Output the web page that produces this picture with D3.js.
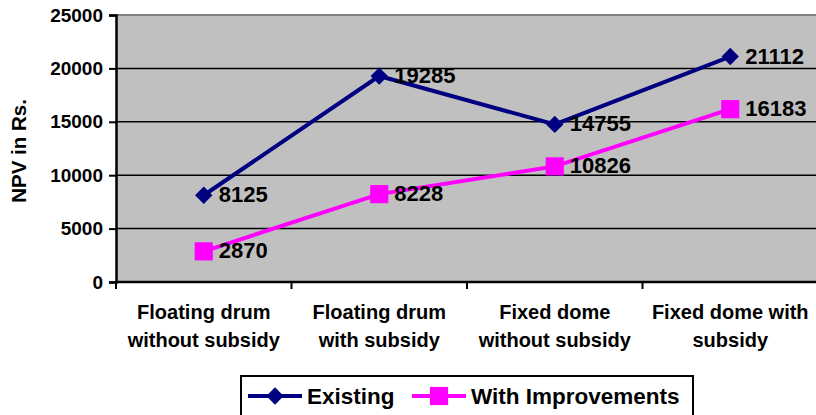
<!DOCTYPE html>
<html>
<head>
<meta charset="utf-8">
<script src="https://cdn.jsdelivr.net/npm/d3@7"></script>
<style>
  body { margin: 0; background: #fff; }
  text { font-family: "Liberation Sans", Arial, sans-serif; font-weight: bold; }
</style>
</head>
<body>
<svg id="drawing_region"></svg>
<script>
// chart data
const categories = [
    ["Floating drum", "without subsidy"],
    ["Floating drum", "with subsidy"],
    ["Fixed dome", "without subsidy"],
    ["Fixed dome with", "subsidy"]
];
const existing = [8125, 19285, 14755, 21112];
const improved = [2870, 8228, 10826, 16183];
const yTicks = [0, 5000, 10000, 15000, 20000, 25000];
const seriesNames = ["Existing", "With Improvements"];

const width = 816, height = 415;
const margin = {top: 15, right: 0, bottom: 133, left: 116};
const inner_width = 702;
const inner_height = height - margin.top - margin.bottom;

const svg = d3.select('#drawing_region')
    .attr('width', width)
    .attr('height', height);

const chart = svg.append('g')
    .attr('transform', `translate(${margin.left}, ${margin.top})`);

const xscale = d3.scaleBand()
    .domain(d3.range(categories.length))
    .range([0, inner_width]);

const yscale = d3.scaleLinear()
    .domain([0, 25000])
    .range([inner_height, 0]);

// plot background
chart.append('rect')
    .attr('width', inner_width)
    .attr('height', inner_height)
    .attr('fill', '#c0c0c0');

chart.append('line')
    .attr('x1', 0).attr('x2', inner_width)
    .attr('y1', 0).attr('y2', 0)
    .attr('stroke', '#808080').attr('stroke-width', 2);

// gridlines
chart.selectAll('.grid')
    .data(yTicks.filter(d => d > 0 && d < 25000))
    .enter()
    .append('line')
    .attr('x1', 0).attr('x2', inner_width)
    .attr('y1', d => yscale(d)).attr('y2', d => yscale(d))
    .attr('stroke', '#000').attr('stroke-width', 1.5);

// y axis
const yaxis = d3.axisLeft(yscale)
    .tickValues(yTicks)
    .tickFormat(d3.format('d'))
    .tickSize(7)
    .tickPadding(4);

const yaxis_group = chart.append('g').call(yaxis);
yaxis_group.select('.domain').attr('stroke-width', 2.5);
yaxis_group.selectAll('.tick line').attr('stroke-width', 2);
yaxis_group.selectAll('.tick text')
    .attr('font-size', 19)
    .attr('font-weight', 'bold')
    .attr('font-family', '"Liberation Sans", Arial, sans-serif')
    .attr('dx', -2);

// x axis
const xaxis_group = chart.append('g')
    .attr('transform', `translate(0, ${inner_height})`);
xaxis_group.append('line')
    .attr('x1', 0).attr('x2', inner_width)
    .attr('stroke', '#000').attr('stroke-width', 2.5);
xaxis_group.selectAll('.xtick')
    .data(d3.range(categories.length + 1))
    .enter()
    .append('line')
    .attr('x1', d => d * xscale.bandwidth())
    .attr('x2', d => d * xscale.bandwidth())
    .attr('y1', 0).attr('y2', 7)
    .attr('stroke', '#000').attr('stroke-width', 2);

const xlabels = xaxis_group.selectAll('.xlabel')
    .data(categories)
    .enter()
    .append('text')
    .attr('text-anchor', 'middle')
    .attr('font-size', 20)
    .attr('transform', (d, i) => `translate(${xscale(i) + xscale.bandwidth() / 2}, 0)`);
xlabels.selectAll('tspan')
    .data(d => d)
    .enter()
    .append('tspan')
    .attr('x', 0)
    .attr('y', (d, i) => 37 + i * 28)
    .text(d => d);

// axis title
svg.append('text')
    .attr('transform', `translate(26, 151) rotate(-90)`)
    .attr('text-anchor', 'middle')
    .attr('font-size', 20.5)
    .text('NPV in Rs.');

// lines
const cx = i => xscale(i) + xscale.bandwidth() / 2;
const line = d3.line()
    .x((d, i) => cx(i))
    .y(d => yscale(d));

const series = [
    {name: seriesNames[0], values: existing, color: '#000080', symbol: d3.symbolSquare, size: 150, rotate: 45},
    {name: seriesNames[1], values: improved, color: '#ff00ff', symbol: d3.symbolSquare, size: 330, rotate: 0}
];

series.forEach(s => {
    chart.append('path')
        .datum(s.values)
        .attr('d', line)
        .attr('fill', 'none')
        .attr('stroke', s.color)
        .attr('stroke-width', 4);

    chart.selectAll(null)
        .data(s.values)
        .enter()
        .append('path')
        .attr('d', d3.symbol(s.symbol, s.size))
        .attr('transform', (d, i) => `translate(${cx(i)}, ${yscale(d)}) rotate(${s.rotate})`)
        .attr('fill', s.color);

    chart.selectAll(null)
        .data(s.values)
        .enter()
        .append('text')
        .attr('x', (d, i) => cx(i) + 15)
        .attr('y', d => yscale(d) + 7)
        .attr('font-size', 22)
        .text(d => d);
});

// legend
const legend = svg.append('g')
    .attr('transform', 'translate(241, 376)');
legend.append('rect')
    .attr('width', 452)
    .attr('height', 45)
    .attr('fill', '#fff')
    .attr('stroke', '#000')
    .attr('stroke-width', 2);

const legendX = [7, 171];
const legendText = [66, 230];
series.forEach((s, i) => {
    const g = legend.append('g')
        .attr('transform', `translate(${legendX[i]}, 20)`);
    g.append('line')
        .attr('x1', 0).attr('x2', 54)
        .attr('stroke', s.color)
        .attr('stroke-width', 4);
    g.append('path')
        .attr('d', d3.symbol(s.symbol, s.size))
        .attr('transform', `translate(27, 0) rotate(${s.rotate})`)
        .attr('fill', s.color);
    legend.append('text')
        .attr('x', legendText[i])
        .attr('y', 28)
        .attr('font-size', 22.5)
        .text(s.name);
});
</script>
</body>
</html>
